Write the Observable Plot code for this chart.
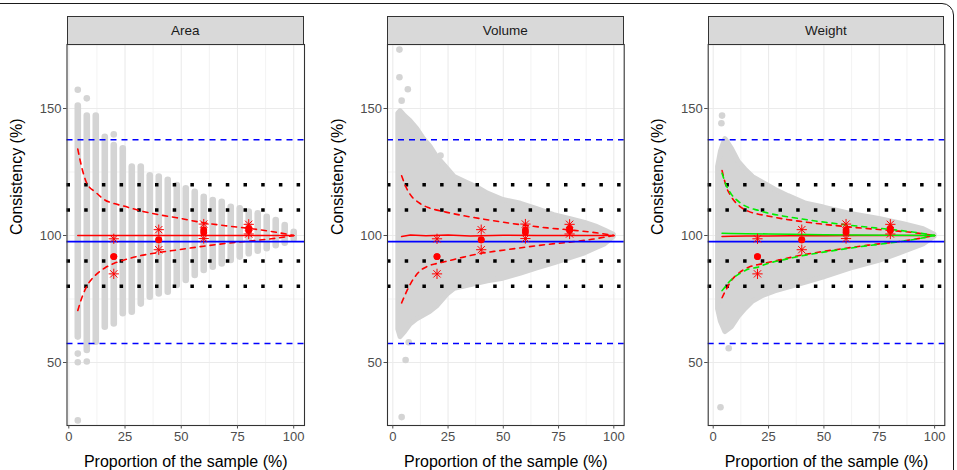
<!DOCTYPE html>
<html>
<head>
<meta charset="utf-8">
<script src="https://cdn.jsdelivr.net/npm/d3@7"></script>
<script src="https://cdn.jsdelivr.net/npm/@observablehq/plot@0.6"></script>
<style>
  body { margin: 0; background: #fff; font-family: "Liberation Sans", Arial, sans-serif; }
  #fig { position: relative; width: 957px; height: 470px; overflow: hidden; background: #fff; }
  #border { position: absolute; left: -20px; top: 3px; width: 974px; height: 520px;
            border: 1.5px solid #1a1a1a; border-radius: 12px; box-sizing: border-box; }
  .panel { position: absolute; top: 0; width: 320px; height: 470px; }
  .panel svg { position: absolute; left: 0; top: 0; }
  .strip { position: absolute; top: 16px; height: 29px; box-sizing: border-box;
           background: #d9d9d9; border: 1px solid #333; text-align: center;
           font-size: 13.5px; line-height: 27px; color: #1a1a1a; }
</style>
</head>
<body>
<div id="fig"><div id="border"></div></div>
<script>
// ---- Subsampling consistency: Area (discrete sample proportions) ----
const areaX  = [4, 8, 12, 16, 20, 24, 28, 32, 36, 40, 44, 48, 52, 56, 60, 64, 68, 72, 76, 80, 84, 88, 92, 96, 100];
const areaHi = [151, 147, 147, 138.7, 135.4, 134.1, 127, 127, 123.5, 123, 121.7, 119.7, 118.4, 117, 115, 113.8, 113.1, 111.1, 110.5, 109.2, 108.5, 107.2, 105.9, 103.9, 101.3];
const areaLo = [60, 54.7, 58, 63.9, 65.2, 69.2, 69.8, 73, 75.7, 77, 77.7, 80.3, 82.3, 84.3, 86.2, 87.5, 88.8, 90.2, 91.5, 92.8, 93.8, 94.8, 96, 97, 98.5];
const areaOutX = [4, 8, 20, 4, 4, 8, 4];
const areaOutY = [157.4, 154, 139.8, 53.5, 50.1, 50.4, 27.2];

// ---- Volume (continuous sample proportions): envelope of the cloud ----
const volX  = [2.5, 3.5, 5.5, 8, 11, 14, 17, 20, 25, 28, 33, 38, 43, 50, 58, 65, 73, 80, 87, 92, 96, 100];
const volHi = [148, 149, 147, 145, 142, 138, 135, 131, 126, 123, 121, 119, 116.5, 114, 112.5, 110.5, 108, 106.5, 105, 103.5, 102, 100.3];
const volLo = [63, 60, 62, 65, 67, 68.5, 70, 72, 77, 79, 80, 81, 82, 83, 85, 87, 89, 91, 93, 95, 96.5, 99.5];
const volOutX = [3, 3, 6.8, 4, 21.6, 7.2, 5.8, 4];
const volOutY = [173.2, 162.3, 157.6, 153.1, 131.5, 58, 51, 28.5];

// ---- Weight (continuous sample proportions): envelope of the cloud ----
const wgtX  = [2.2, 3.5, 5.5, 8.5, 11.5, 14.5, 18, 22, 28, 34, 42, 50, 62, 75, 86, 95, 100];
const wgtHi = [127, 133, 138, 134, 129, 126, 123, 121, 118, 115.5, 112.5, 111, 108.5, 106.5, 104.5, 102.5, 100.3];
const wgtLo = [71, 66, 62, 64, 68, 71, 74, 76, 78, 79.5, 81.5, 83.5, 87, 90, 93.5, 96.5, 99.5];
const wgtOutX = [4, 3.7, 7, 3.3];
const wgtOutY = [147.2, 144.2, 55.6, 32.4];

// ---- Confidence curves (red: observed, green: expected for Weight) ----
const curveX      = [4, 6, 8, 12, 16, 20, 24, 32, 40, 48, 60, 70, 80, 90, 100];
const areaUpper   = [134, 126, 120.6, 117, 114, 112.6, 111.7, 109.7, 108.2, 107, 105, 103.8, 102.8, 101.6, 100];
const areaLower   = [70.5, 76, 80, 84.5, 87.2, 89, 90.2, 92.1, 93.3, 94.3, 95.8, 96.9, 97.8, 98.7, 100];
const volUpper    = [123.5, 119, 116, 112.8, 111, 110, 109.2, 107.8, 106.6, 105.5, 104, 103, 102.2, 101.3, 100];
const volLower    = [73.5, 77.5, 81, 85.8, 88, 89, 89.8, 91.5, 93, 94, 95.4, 96.5, 97.4, 98.5, 100];
const wgtUpper    = [125.6, 119, 115.5, 111.5, 109.5, 108.5, 107.8, 106.5, 105.5, 104.6, 103.5, 102.7, 102, 101.2, 100];
const wgtLower    = [75.5, 79, 82, 85.5, 87.5, 88.5, 89.2, 90.8, 92.3, 93.5, 95, 96.2, 97.2, 98.4, 100];
const wgtUpperExp = [124.5, 119.5, 116.5, 113, 111, 110, 109, 107.6, 106.5, 105.5, 104.2, 103.3, 102.4, 101.4, 100];
const wgtLowerExp = [78.3, 80.5, 82.5, 85, 86.8, 87.5, 88.8, 90.5, 92, 93.2, 94.8, 96, 97.1, 98.3, 100];

// ---- Central (median) consistency lines ----
const centreX     = [4, 8, 15, 25, 35, 50, 65, 80, 100];
const areaCentre  = [100, 100, 100, 100, 100, 100, 100, 100, 100];
const volCentre   = [99.6, 100.2, 99.9, 100.2, 99.8, 100.1, 100, 100, 100];
const wgtCentre   = [99.6, 99.7, 99.8, 99.8, 99.9, 99.9, 100, 100, 100];
const wgtCentreExp = [100.9, 100.8, 100.7, 100.6, 100.5, 100.3, 100.2, 100.1, 100];

// ---- Reference subsamples ----
const markerX  = [20, 40, 60, 80];
const starHigh = [98.7, 102.3, 104.5, 104.4];
const meanHigh = [91.7, 98.3, 102.2, 102.8];
const meanLow  = [91.7, 98.3, 101.2, 102.0];
const starLow  = [84.9, 94.4, 98.8, 100.6];

// ---- Horizontal references ----
const bias = 97.6;
const limits = [137.7, 57.5];
const tolerance = [80, 90, 110, 120];

const xTicks = [0, 25, 50, 75, 100];
const xMinor = [12.5, 37.5, 62.5, 87.5];
const yTicks = [50, 100, 150];
const yMinor = [75, 125, 175];

const GREY = "#d4d4d4";
const RED = "#ff0000", BLUE = "#0000ff", GREEN = "#00ee00";
const zip = (xs, ys) => xs.map((x, i) => ({x, y: ys[i]}));
const band = (xs, lo, hi) => xs.map((x, i) => ({x, lo: lo[i], hi: hi[i]}));

const panels = [
  {name: "Area",   left: 0,   ml: 66.5, mr: 16,   xDomain: [-0.8, 104.8],
   cloud: "columns", cloudData: band(areaX, areaLo, areaHi), out: zip(areaOutX, areaOutY),
   upper: areaUpper, lower: areaLower, centre: areaCentre},
  {name: "Volume", left: 320, ml: 67,   mr: 16.3, xDomain: [-2.4, 104.7],
   cloud: "area", cloudData: band(volX, volLo, volHi), out: zip(volOutX, volOutY),
   upper: volUpper, lower: volLower, centre: volCentre},
  {name: "Weight", left: 640, ml: 67.7, mr: 15.7, xDomain: [-2.26, 104.6],
   cloud: "area", cloudData: band(wgtX, wgtLo, wgtHi), out: zip(wgtOutX, wgtOutY),
   upper: wgtUpper, lower: wgtLower, centre: wgtCentre,
   expected: {upper: wgtUpperExp, lower: wgtLowerExp, centre: wgtCentreExp}}
];

const fig = document.getElementById("fig");
const LW = 1.6;

for (const p of panels) {
  const marks = [
    Plot.ruleX(xMinor, {stroke: "#ebebeb", strokeWidth: 0.6}),
    Plot.ruleY(yMinor, {stroke: "#ebebeb", strokeWidth: 0.6}),
    Plot.ruleX(xTicks, {stroke: "#ebebeb", strokeWidth: 1.1}),
    Plot.ruleY(yTicks, {stroke: "#ebebeb", strokeWidth: 1.1})
  ];

  // grey cloud of subsample consistencies
  if (p.cloud === "columns") {
    marks.push(Plot.ruleX(p.cloudData, {x: "x", y1: "lo", y2: "hi", stroke: GREY,
      strokeWidth: 6.6, strokeLinecap: "round"}));
  } else {
    marks.push(Plot.areaY(p.cloudData, {x: "x", y1: "lo", y2: "hi", fill: GREY,
      stroke: GREY, strokeWidth: 5, strokeLinejoin: "round"}));
  }
  marks.push(Plot.dot(p.out, {x: "x", y: "y", r: 3.3, fill: GREY}));

  // tolerance levels
  marks.push(Plot.ruleY(tolerance, {stroke: "#000", strokeWidth: 3.5, strokeDasharray: "3.5 14.2"}));

  // median line and confidence curves
  const centre = zip(centreX, p.centre);
  const up = zip(curveX, p.upper), lo = zip(curveX, p.lower);
  marks.push(Plot.line(centre, {x: "x", y: "y", stroke: RED, strokeWidth: LW}));
  marks.push(Plot.line(up, {x: "x", y: "y", stroke: RED, strokeWidth: LW, strokeDasharray: "5 5", curve: "monotone-x"}));
  marks.push(Plot.line(lo, {x: "x", y: "y", stroke: RED, strokeWidth: LW, strokeDasharray: "5 5", curve: "monotone-x"}));
  if (p.expected) {
    marks.push(Plot.line(zip(centreX, p.expected.centre), {x: "x", y: "y", stroke: GREEN, strokeWidth: LW}));
    marks.push(Plot.line(zip(curveX, p.expected.upper), {x: "x", y: "y", stroke: GREEN, strokeWidth: LW, strokeDasharray: "5 5", curve: "monotone-x"}));
    marks.push(Plot.line(zip(curveX, p.expected.lower), {x: "x", y: "y", stroke: GREEN, strokeWidth: LW, strokeDasharray: "5 5", curve: "monotone-x"}));
  }

  // bias and limits of agreement
  marks.push(Plot.ruleY([bias], {stroke: BLUE, strokeWidth: LW}));
  marks.push(Plot.ruleY(limits, {stroke: BLUE, strokeWidth: LW, strokeDasharray: "6 5"}));

  // reference subsamples
  const stars = [...zip(markerX, starHigh), ...zip(markerX, starLow)];
  marks.push(Plot.dot(stars, {x: "x", y: "y", symbol: "plus", r: 3.4, stroke: RED, strokeWidth: 1}));
  marks.push(Plot.dot(stars, {x: "x", y: "y", symbol: "times", r: 3.4, stroke: RED, strokeWidth: 1}));
  marks.push(Plot.dot([...zip(markerX, meanHigh), ...zip(markerX, meanLow)], {x: "x", y: "y", r: 3.4, fill: RED}));

  marks.push(Plot.frame({stroke: "#333", strokeWidth: 1.1}));

  marks.push(Plot.axisX(xTicks, {tickSize: 3.5, tickPadding: 2.5, fontSize: 13, label: null, color: "#4d4d4d"}));
  marks.push(Plot.axisY(yTicks, {tickSize: 3.5, tickPadding: 2, fontSize: 13, label: null, color: "#4d4d4d"}));
  marks.push(Plot.text(["Proportion of the sample (%)"], {frameAnchor: "bottom", dy: 36, text: d => d,
    fontSize: 16, fill: "#000", lineAnchor: "middle"}));
  marks.push(Plot.text(["Consistency (%)"], {frameAnchor: "left", dx: -50, rotate: -90, text: d => d,
    fontSize: 16, fill: "#000", lineAnchor: "middle"}));

  const svg = Plot.plot({
    width: 320, height: 470,
    marginLeft: p.ml, marginRight: p.mr, marginTop: 44, marginBottom: 45,
    style: {fontFamily: "Liberation Sans, Arial, sans-serif", background: "transparent", overflow: "visible"},
    x: {domain: p.xDomain},
    y: {domain: [25.2, 175.2]},
    marks
  });

  const holder = document.createElement("div");
  holder.className = "panel";
  holder.style.left = p.left + "px";
  holder.appendChild(svg);
  const strip = document.createElement("div");
  strip.className = "strip";
  strip.style.left = p.ml + "px";
  strip.style.width = (320 - p.ml - p.mr) + "px";
  strip.textContent = p.name;
  holder.appendChild(strip);
  fig.appendChild(holder);
}
</script>
</body>
</html>
